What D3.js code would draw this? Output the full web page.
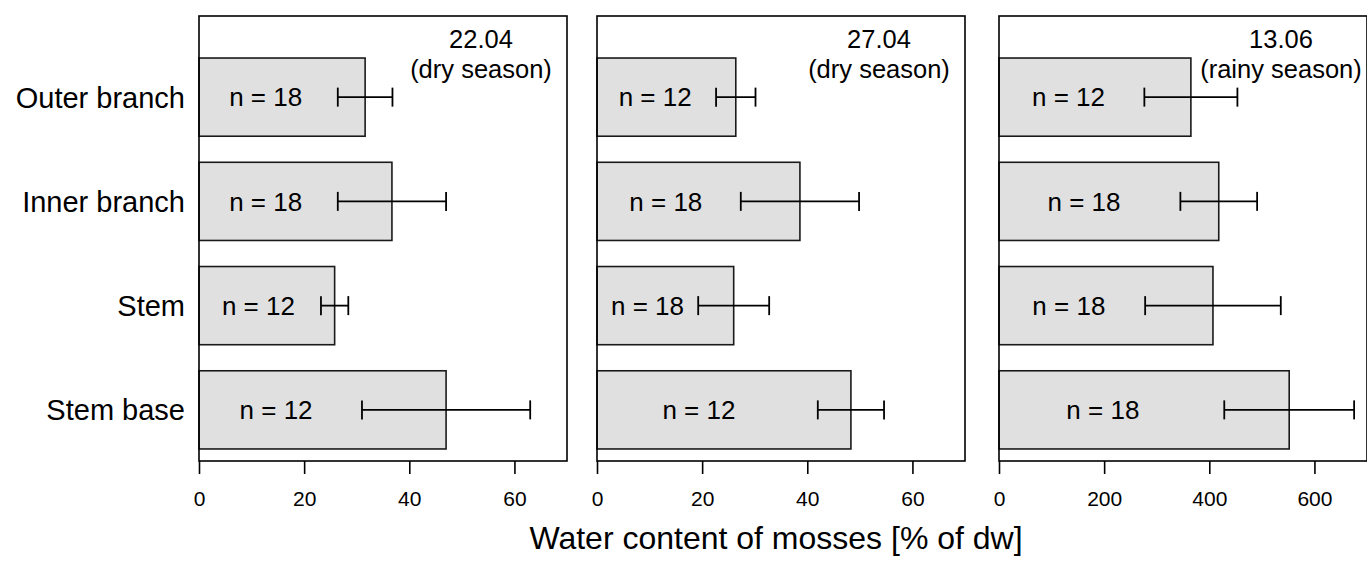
<!DOCTYPE html>
<html>
<head>
<meta charset="utf-8">
<script src="https://cdn.jsdelivr.net/npm/d3@7"></script>
<style>
  body { margin: 0; background: #fff; }
  text { font-family: Arial, "Liberation Sans", sans-serif; fill: #000; }
</style>
</head>
<body>
<div class="chart"></div>
<script>
// water content of mosses, three sampling dates, mean +/- sd

var w = 1367, h = 563;

var categories = ['Outer branch', 'Inner branch', 'Stem', 'Stem base'];

var dates = ['22.04', '27.04', '13.06'];
var seasons = ['(dry season)', '(dry season)', '(rainy season)'];
var maxX = [70, 70, 700];
var ticks = [[0, 20, 40, 60], [0, 20, 40, 60], [0, 200, 400, 600]];

var means1 = [31.6, 36.7, 25.8, 47.0],
	errs1 = [5.2, 10.3, 2.6, 16.0],
	n1 = [18, 18, 12, 12];
var means2 = [26.4, 38.6, 26.0, 48.3],
	errs2 = [3.75, 11.25, 6.75, 6.3],
	n2 = [12, 18, 18, 12];
var means3 = [365, 418, 407, 552],
	errs3 = [88.5, 73, 129, 123.5],
	n3 = [12, 18, 18, 18];

var means = [means1, means2, means3],
	errs = [errs1, errs2, errs3],
	ns = [n1, n2, n3];

var panelLeft = [199, 597, 999],
	panelW = 368,
	plotTop = 16, plotBottom = 461;

var svg = d3.select('.chart').append('svg')
	.attr('width', w)
	.attr('height', h);

var y = d3.scaleBand()
	.domain(categories)
	.range([45, 462])
	.paddingInner(0.25)
	.paddingOuter(0.125);

// category labels on the left
svg.append('g').selectAll('text')
	.data(categories)
	.enter().append('text')
		.attr('x', 185)
		.attr('y', function(d) { return y(d) + y.bandwidth() / 2; })
		.attr('dy', '0.36em')
		.attr('text-anchor', 'end')
		.style('font-size', '29px')
		.text(function(d) { return d; });

dates.forEach(function(date, p) {
	var x = d3.scaleLinear()
		.domain([0, maxX[p]])
		.range([panelLeft[p], panelLeft[p] + panelW]);

	var g = svg.append('g');

	var rows = categories.map(function(c, i) {
		return { cat: c, mean: means[p][i], err: errs[p][i], n: ns[p][i] };
	});

	// bars
	g.selectAll('rect.bar')
		.data(rows)
		.enter().append('rect')
			.attr('class', 'bar')
			.attr('x', x(0))
			.attr('y', function(d) { return y(d.cat); })
			.attr('width', function(d) { return x(d.mean) - x(0); })
			.attr('height', y.bandwidth())
			.attr('fill', '#e0e0e0')
			.attr('stroke', '#1a1a1a')
			.attr('stroke-width', 1.6);

	// n labels, roughly left of the error bar
	g.selectAll('text.n')
		.data(rows)
		.enter().append('text')
			.attr('class', 'n')
			.attr('x', function(d) {
				var lo = x(d.mean - d.err) - x(0);
				return x(0) + 7 + 0.43 * lo;
			})
			.attr('y', function(d) { return y(d.cat) + y.bandwidth() / 2; })
			.attr('dy', '0.36em')
			.attr('text-anchor', 'middle')
			.style('font-size', '26px')
			.text(function(d) { return 'n = ' + d.n; });

	// error bars
	var eb = g.selectAll('g.err')
		.data(rows)
		.enter().append('g')
			.attr('class', 'err')
			.attr('stroke', '#000')
			.attr('stroke-width', 1.8);

	eb.append('line')
		.attr('x1', function(d) { return x(d.mean - d.err); })
		.attr('x2', function(d) { return x(d.mean + d.err); })
		.attr('y1', function(d) { return y(d.cat) + y.bandwidth() / 2; })
		.attr('y2', function(d) { return y(d.cat) + y.bandwidth() / 2; });

	[-1, 1].forEach(function(s) {
		eb.append('line')
			.attr('x1', function(d) { return x(d.mean + s * d.err); })
			.attr('x2', function(d) { return x(d.mean + s * d.err); })
			.attr('y1', function(d) { return y(d.cat) + y.bandwidth() / 2 - 9.5; })
			.attr('y2', function(d) { return y(d.cat) + y.bandwidth() / 2 + 9.5; });
	});

	// frame
	g.append('rect')
		.attr('x', x(0))
		.attr('y', plotTop)
		.attr('width', panelW)
		.attr('height', plotBottom - plotTop)
		.attr('fill', 'none')
		.attr('stroke', '#000')
		.attr('stroke-width', 1.6);

	// x axis
	var axis = g.append('g')
		.attr('transform', 'translate(0,' + plotBottom + ')')
		.call(d3.axisBottom(x).tickValues(ticks[p]).tickSize(13).tickPadding(17).tickSizeOuter(0));
	axis.select('.domain').remove();
	axis.selectAll('line').attr('stroke', '#000').attr('stroke-width', 1.6);
	axis.selectAll('text').style('font-size', '21px').attr('font-family', null);

	// date label
	var cx = x(0) + 282;
	g.append('text')
		.attr('x', cx)
		.attr('y', 48)
		.attr('text-anchor', 'middle')
		.style('font-size', '25.5px')
		.text(date);
	g.append('text')
		.attr('x', cx)
		.attr('y', 78)
		.attr('text-anchor', 'middle')
		.style('font-size', '25.5px')
		.text(seasons[p]);
});

svg.append('text')
	.attr('x', 776)
	.attr('y', 549)
	.attr('text-anchor', 'middle')
	.style('font-size', '32px')
	.text('Water content of mosses [% of dw]');
</script>
</body>
</html>
